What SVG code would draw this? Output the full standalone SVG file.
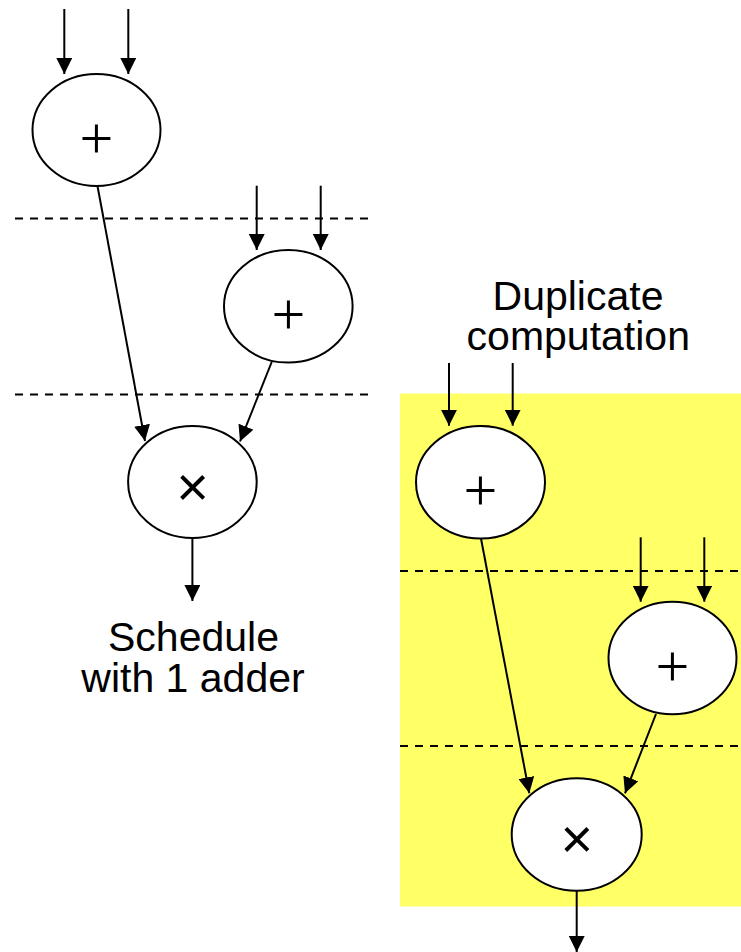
<svg xmlns="http://www.w3.org/2000/svg" width="741" height="952" viewBox="0 0 741 952">
  <defs>
    <marker id="arrow" viewBox="0 0 16 16" refX="16" refY="8" markerWidth="16" markerHeight="16" markerUnits="userSpaceOnUse" orient="auto">
      <path d="M0,0 L16,8 L0,16 z" fill="#000"/>
    </marker>
    <style>
      .node ellipse { fill: #fff; stroke: #000; stroke-width: 2; }
      .edge { stroke: #000; stroke-width: 2; fill: none; marker-end: url(#arrow); }
      .step { stroke: #000; stroke-width: 1.8; stroke-dasharray: 8 7; fill: none; }
      .op-add { font-family: "Liberation Serif", serif; font-size: 60px; text-anchor: middle; fill: #000; }
      .op-mul { font-family: "Liberation Sans", Arial, sans-serif; font-size: 56px; text-anchor: middle; fill: #000; }
      .caption { font-family: "Liberation Sans", Arial, sans-serif; font-size: 41px; text-anchor: middle; fill: #000; }
    </style>
  </defs>

  <rect id="duplicate-region" x="400" y="393.5" width="341" height="513" fill="#ffff66"/>

  <g id="control-steps">
    <line class="step" x1="15" y1="218.5" x2="369" y2="218.5"/>
    <line class="step" x1="15" y1="394.5" x2="369" y2="394.5"/>
    <line class="step" x1="400" y1="571" x2="741" y2="571"/>
    <line class="step" x1="400" y1="746" x2="741" y2="746"/>
  </g>

  <g id="connectors">
    <!-- schedule with one adder -->
    <line class="edge" x1="64.3" y1="9" x2="64.3" y2="74"/>
    <line class="edge" x1="128.3" y1="9" x2="128.3" y2="74"/>
    <line class="edge" x1="256.7" y1="185.7" x2="256.7" y2="250"/>
    <line class="edge" x1="320.7" y1="185.7" x2="320.7" y2="250"/>
    <line class="edge" x1="97.5" y1="186" x2="145" y2="441"/>
    <line class="edge" x1="271.7" y1="362" x2="240" y2="441.5"/>
    <line class="edge" x1="192.4" y1="538" x2="192.4" y2="601"/>
    <!-- duplicated computation -->
    <line class="edge" x1="449" y1="363" x2="449" y2="425.7"/>
    <line class="edge" x1="512.7" y1="363" x2="512.7" y2="425.7"/>
    <line class="edge" x1="640.7" y1="537.3" x2="640.7" y2="601.7"/>
    <line class="edge" x1="704.3" y1="537.3" x2="704.3" y2="601.7"/>
    <line class="edge" x1="481" y1="538.5" x2="529.3" y2="793.3"/>
    <line class="edge" x1="656" y1="714" x2="625" y2="793.3"/>
    <line class="edge" x1="576.7" y1="890.7" x2="576.7" y2="952"/>
  </g>

  <g id="add-1" class="node">
    <ellipse cx="96.5" cy="130" rx="64" ry="56"/>
    <text class="op-add" x="96.5" y="157.5">+</text>
  </g>
  <g id="add-2" class="node">
    <ellipse cx="288.3" cy="306.3" rx="64.3" ry="56.3"/>
    <text class="op-add" x="288.3" y="334">+</text>
  </g>
  <g id="mul-1" class="node">
    <ellipse cx="192.4" cy="482" rx="64.3" ry="56"/>
    <text class="op-mul" x="192.7" y="506">×</text>
  </g>

  <g id="add-3" class="node">
    <ellipse cx="480.5" cy="482.3" rx="64.5" ry="56.3"/>
    <text class="op-add" x="480.4" y="509.5">+</text>
  </g>
  <g id="add-4" class="node">
    <ellipse cx="672.5" cy="658" rx="64" ry="56.3"/>
    <text class="op-add" x="672.4" y="685.5">+</text>
  </g>
  <g id="mul-2" class="node">
    <ellipse cx="576.7" cy="834.5" rx="65" ry="56.2"/>
    <text class="op-mul" x="576.9" y="858">×</text>
  </g>

  <g id="labels">
    <text class="caption"><tspan x="193.5" y="651">Schedule</tspan><tspan x="193" y="692">with 1 adder</tspan></text>
    <text class="caption"><tspan x="578" y="310">Duplicate</tspan><tspan x="578.3" y="350">computation</tspan></text>
  </g>
</svg>
